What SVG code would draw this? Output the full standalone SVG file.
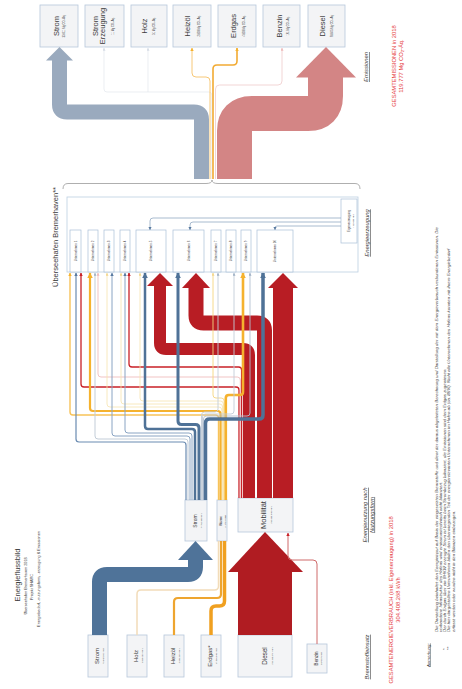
<svg xmlns="http://www.w3.org/2000/svg" width="462" height="689" viewBox="0 0 462 689">
<style>
.f{font-family:"Liberation Sans",Arial,sans-serif;fill:#3a3a3a}
.m{text-anchor:middle}
.lbl{font-style:italic;text-decoration:underline}
.red{fill:#e5383b}
.box{fill:#f3f4f6;stroke:#b6c7db;stroke-width:0.8}
.ubox{fill:#fff;stroke:#a9bfd8;stroke-width:0.7}
.ln{fill:none}
.note{font-style:italic;font-size:4.4px}
</style>
<defs>
<marker id="mBs" viewBox="0 0 10 10" refX="9" refY="5" markerWidth="3.5" markerHeight="3.5" markerUnits="userSpaceOnUse" orient="auto"><path d="M0 0L10 5L0 10z" fill="#58799f"/></marker>
<marker id="mBl" viewBox="0 0 10 10" refX="9" refY="5" markerWidth="6" markerHeight="6" markerUnits="userSpaceOnUse" orient="auto"><path d="M0 0L10 5L0 10z" fill="#4f7297"/></marker>
<marker id="mGr" viewBox="0 0 10 10" refX="9" refY="5" markerWidth="3" markerHeight="3" markerUnits="userSpaceOnUse" orient="auto"><path d="M0 0L10 5L0 10z" fill="#9fb0c4"/></marker>
<marker id="mOs" viewBox="0 0 10 10" refX="9" refY="5" markerWidth="3.5" markerHeight="3.5" markerUnits="userSpaceOnUse" orient="auto"><path d="M0 0L10 5L0 10z" fill="#f5b22e"/></marker>
<marker id="mOl" viewBox="0 0 10 10" refX="9" refY="5" markerWidth="5.5" markerHeight="5.5" markerUnits="userSpaceOnUse" orient="auto"><path d="M0 0L10 5L0 10z" fill="#f5b22e"/></marker>
<marker id="mYs" viewBox="0 0 10 10" refX="9" refY="5" markerWidth="3" markerHeight="3" markerUnits="userSpaceOnUse" orient="auto"><path d="M0 0L10 5L0 10z" fill="#f3d68a"/></marker>
<marker id="mRs" viewBox="0 0 10 10" refX="9" refY="5" markerWidth="3.5" markerHeight="3.5" markerUnits="userSpaceOnUse" orient="auto"><path d="M0 0L10 5L0 10z" fill="#c92027"/></marker>
<marker id="mPs" viewBox="0 0 10 10" refX="9" refY="5" markerWidth="3" markerHeight="3" markerUnits="userSpaceOnUse" orient="auto"><path d="M0 0L10 5L0 10z" fill="#eeb8b8"/></marker>
<marker id="mLg" viewBox="0 0 10 10" refX="9" refY="5" markerWidth="3" markerHeight="3" markerUnits="userSpaceOnUse" orient="auto"><path d="M0 0L10 5L0 10z" fill="#d6dde6"/></marker>
</defs>

<rect width="462" height="689" fill="#fff"/>

<!-- title block -->
<g id="title" class="f">
<text class="m" font-size="7.5" transform="translate(20 575) rotate(-90)">Energieflussbild</text>
<text class="m" font-size="3.8" transform="translate(27 586) rotate(-90)">Überseehafen Bremerhaven 2018</text>
<text class="m" font-size="3.8" transform="translate(33 587) rotate(-90)">Projekt SHARC</text>
<text class="m" font-size="3.8" transform="translate(40 579) rotate(-90)">Energiebedarf, -nutzungsform, -erzeugung &amp; Emissionen</text>
</g>

<!-- harbour container with companies -->
<g id="hafen">
<rect x="67" y="197" width="291" height="75" fill="#fff" stroke="#bccfe2" stroke-width="0.8"/>
<text class="f m" font-size="7.5" transform="translate(58 237) rotate(-90)">Überseehafen Bremerhaven**</text>
<path class="ln" d="M63 189Q63 183.5 68 183.5H206Q212 183.5 212 180Q212 183.5 218 183.5H355Q360 183.5 360 189" stroke="#9a9a9a" stroke-width="0.8"/>
</g>
<g id="u1"><rect class="ubox" x="70" y="230" width="11" height="42"/><text class="f m" font-size="3" transform="translate(76.6 251) rotate(-90)">Unternehmen 1</text></g>
<g id="u2"><rect class="ubox" x="88" y="230" width="10" height="42"/><text class="f m" font-size="3" transform="translate(94.1 251) rotate(-90)">Unternehmen 2</text></g>
<g id="u3"><rect class="ubox" x="104" y="230" width="10" height="42"/><text class="f m" font-size="3" transform="translate(110.1 251) rotate(-90)">Unternehmen 3</text></g>
<g id="u4"><rect class="ubox" x="120" y="230" width="10" height="42"/><text class="f m" font-size="3" transform="translate(126.1 251) rotate(-90)">Unternehmen 4</text></g>
<g id="u5"><rect class="ubox" x="136" y="230" width="30" height="42"/><text class="f m" font-size="3" transform="translate(152.1 251) rotate(-90)">Unternehmen 5</text></g>
<g id="u6"><rect class="ubox" x="173" y="230" width="31" height="42"/><text class="f m" font-size="3" transform="translate(189.6 251) rotate(-90)">Unternehmen 6</text></g>
<g id="u7"><rect class="ubox" x="211" y="230" width="10" height="42"/><text class="f m" font-size="3" transform="translate(217.1 251) rotate(-90)">Unternehmen 7</text></g>
<g id="u8"><rect class="ubox" x="226" y="230" width="10" height="42"/><text class="f m" font-size="3" transform="translate(232.1 251) rotate(-90)">Unternehmen 8</text></g>
<g id="u9"><rect class="ubox" x="241" y="230" width="10" height="42"/><text class="f m" font-size="3" transform="translate(247.1 251) rotate(-90)">Unternehmen 9</text></g>
<g id="u10"><rect class="ubox" x="257" y="230" width="36" height="42"/><text class="f m" font-size="3" transform="translate(276.1 251) rotate(-90)">Unternehmen 10</text></g>
<g id="eigen"><rect class="ubox" x="341" y="199" width="16" height="44"/><text class="f m" font-size="3" transform="translate(349.5 221) rotate(-90)">Eigenerzeugung</text><text class="f m" font-size="2" transform="translate(353.5 221) rotate(-90)">4.120.000 kWh</text></g>

<!-- emission nodes -->
<g id="em-strom"><rect class="box" x="40" y="5" width="38" height="42"/><text class="f m" font-size="7.5" transform="translate(58.5 26) rotate(-90)">Strom</text><text class="f m" font-size="2.6" transform="translate(65 26) rotate(-90)">33.011 Mg CO₂-Äq.</text></g>
<g id="em-stromerz"><rect class="box" x="85" y="5" width="39" height="42"/><text class="f m" font-size="7.5" transform="translate(97.5 26) rotate(-90)">Strom</text><text class="f m" font-size="7.5" transform="translate(105 26) rotate(-90)">Erzeugung</text><text class="f m" font-size="2.6" transform="translate(113.5 26) rotate(-90)">11 Mg CO₂-Äq.</text></g>
<g id="em-holz"><rect class="box" x="131" y="5" width="36" height="42"/><text class="f m" font-size="7.5" transform="translate(147 26) rotate(-90)">Holz</text><text class="f m" font-size="2.6" transform="translate(154.5 26) rotate(-90)">31 Mg CO₂-Äq.</text></g>
<g id="em-heizoel"><rect class="box" x="173" y="5" width="38" height="42"/><text class="f m" font-size="7.5" transform="translate(190 26) rotate(-90)">Heizöl</text><text class="f m" font-size="2.6" transform="translate(199.5 26) rotate(-90)">2.859 Mg CO₂-Äq.</text></g>
<g id="em-erdgas"><rect class="box" x="218" y="5" width="38" height="42"/><text class="f m" font-size="7.5" transform="translate(236 26) rotate(-90)">Erdgas</text><text class="f m" font-size="2.6" transform="translate(244.5 26) rotate(-90)">4.859 Mg CO₂-Äq.</text></g>
<g id="em-benzin"><rect class="box" x="263" y="5" width="37" height="42"/><text class="f m" font-size="7.5" transform="translate(282 26) rotate(-90)">Benzin</text><text class="f m" font-size="2.6" transform="translate(288.5 26) rotate(-90)">161 Mg CO₂-Äq.</text></g>
<g id="em-diesel"><rect class="box" x="308" y="5" width="37" height="42"/><text class="f m" font-size="7.5" transform="translate(325 26) rotate(-90)">Diesel</text><text class="f m" font-size="2.6" transform="translate(332.5 26) rotate(-90)">78.845 Mg CO₂-Äq.</text></g>

<!-- fuel input nodes -->
<g id="in-strom"><rect class="box" x="88" y="635" width="20" height="42"/><text class="f m" font-size="6" transform="translate(98.5 656) rotate(-90)">Strom</text><text class="f m" font-size="2.2" transform="translate(104 656) rotate(-90)">70.642.390 kWh</text></g>
<g id="in-holz"><rect class="box" x="127" y="635" width="20" height="42"/><text class="f m" font-size="6" transform="translate(137.5 656) rotate(-90)">Holz</text><text class="f m" font-size="2.2" transform="translate(143 656) rotate(-90)">1.369.080 kWh</text></g>
<g id="in-heizoel"><rect class="box" x="164" y="635" width="20" height="42"/><text class="f m" font-size="6" transform="translate(174.5 656) rotate(-90)">Heizöl</text><text class="f m" font-size="2.2" transform="translate(180 656) rotate(-90)">2.341.209 kWh</text></g>
<g id="in-erdgas"><rect class="box" x="201" y="635" width="20" height="42"/><text class="f m" font-size="6" transform="translate(211.5 656) rotate(-90)">Erdgas*</text><text class="f m" font-size="2.2" transform="translate(217 656) rotate(-90)">17.366.645 kWh</text></g>
<g id="in-diesel"><rect class="box" x="238" y="635" width="54" height="42"/><text class="f m" font-size="6.3" transform="translate(267 656) rotate(-90)">Diesel</text><text class="f m" font-size="2.2" transform="translate(272.5 656) rotate(-90)">211.118.271 kWh</text></g>
<g id="in-benzin"><rect class="box" x="307" y="644" width="20" height="29"/><text class="f m" font-size="4.5" transform="translate(318 658.5) rotate(-90)">Benzin</text><text class="f m" font-size="2" transform="translate(322 658.5) rotate(-90)">1.570.673 kWh</text></g>

<!-- usage nodes -->
<g id="use-strom"><rect class="box" x="185" y="500" width="22" height="41"/><text class="f m" font-size="5" transform="translate(196.5 521) rotate(-90)">Strom</text><text class="f m" font-size="2" transform="translate(202 521) rotate(-90)">74.762.390 kWh</text></g>
<g id="use-waerme"><rect class="box" x="217" y="500" width="10" height="41"/><text class="f m" font-size="3" transform="translate(222.3 521) rotate(-90)">Wärme</text><text class="f m" font-size="1.8" transform="translate(225.5 521) rotate(-90)">21.076.934 kWh</text></g>
<g id="use-mobil"><rect class="box" x="238" y="498" width="55" height="34"/><text class="f m" font-size="7.5" transform="translate(266 515) rotate(-90)">Mobilität</text><text class="f m" font-size="2.2" transform="translate(272 515) rotate(-90)">212.688.944 kWh</text></g>

<!-- flows -->
<g id="connectors">
<!-- emissions -->
<path class="ln" d="M201.5 179V119.5Q201.5 112 194 112H67Q59.5 112 59.5 104.5V60" stroke="#9aaabe" stroke-width="15"/>
<polygon points="46,60.5 73,60.5 59.5,47" fill="#9aaabe"/>
<path class="ln" d="M234.5 179V131Q234.5 113.5 252 113.5H308Q325.5 113.5 325.5 96V77" stroke="#d38585" stroke-width="35"/>
<polygon points="296,77.5 356,77.5 326,47" fill="#d38585"/>
<path class="ln" d="M211.8 179V95Q211.8 92 208.8 92H107Q104 92 104 89V48" stroke="#e2e7ed" stroke-width="0.7" marker-end="url(#mLg)"/>
<path class="ln" d="M148 92V48" stroke="#e2e7ed" stroke-width="0.7" marker-end="url(#mLg)"/>
<path class="ln" d="M215.5 179V89Q215.5 85 219.5 85H278Q282 85 282 81V48" stroke="#efcaca" stroke-width="0.8" marker-end="url(#mPs)"/>
<path class="ln" d="M210 179V81Q210 77 206 77H196Q192 77 192 73V48" stroke="#f7c878" stroke-width="1" marker-end="url(#mOs)"/>
<path class="ln" d="M213 179V69Q213 65 217 65H233Q237 65 237 61V48" stroke="#f2ab33" stroke-width="1.6" marker-end="url(#mOs)"/>

<!-- own generation -->
<path class="ln" d="M341 218H153Q150 218 150 221V229.8" stroke="#93a9c3" stroke-width="0.8" marker-end="url(#mBs)"/>
<path class="ln" d="M341 222H193Q190 222 190 225V229.8" stroke="#93a9c3" stroke-width="0.8" marker-end="url(#mBs)"/>
<path class="ln" d="M341 226H277Q275 226 275 228V229.8" stroke="#93a9c3" stroke-width="0.8" marker-end="url(#mBs)"/>

<!-- fuel inputs -->
<path class="ln" d="M99.5 635V582Q99.5 574.5 107 574.5H188Q195.5 574.5 195.5 567V559.5" stroke="#4f7399" stroke-width="15"/>
<polygon points="178,560 213,560 195.5,541" fill="#4f7399"/>
<path class="ln" d="M137 635V594Q137 590 141 590H214.5Q218.5 590 218.5 586V541" stroke="#f2dcb9" stroke-width="1.5"/>
<path class="ln" d="M174 635V602Q174 598 178 598H217Q221 598 221 594V541" stroke="#eea52f" stroke-width="2.2"/>
<path class="ln" d="M211 635V611Q211 606 216 606H219.5Q224.5 606 224.5 601V541" stroke="#f0a020" stroke-width="3.5"/>
<rect x="238" y="571.5" width="54" height="63.5" fill="#b01c22"/>
<polygon points="228,572 303,572 265,532" fill="#b01c22"/>
<path class="ln" d="M317 644V564Q317 560 313 560H292Q288 560 288 556V533" stroke="#cf6b6b" stroke-width="1" marker-end="url(#mRs)"/>

<!-- mobility to companies -->
<path class="ln" d="M249 498V355Q249 349 243 349H166Q160 349 160 343V285.5" stroke="#b81d24" stroke-width="12"/>
<polygon points="147,286 173,286 160,273" fill="#b81d24"/>
<path class="ln" d="M264.5 498V330.5Q264.5 323 257 323H203.5Q196 323 196 315.5V287.5" stroke="#b81d24" stroke-width="15"/>
<polygon points="182,288 210,288 196,273" fill="#b81d24"/>
<rect x="273" y="287.5" width="20" height="210.5" fill="#b81d24"/>
<polygon points="268,288 298,288 283,273" fill="#b81d24"/>
<path class="ln" d="M239 498V390Q239 387 236 387H84Q81 387 81 384V273" stroke="#c92027" stroke-width="1.3" marker-end="url(#mRs)"/>
<path class="ln" d="M240.3 498V380Q240.3 377 237.3 377H101Q98 377 98 374V273" stroke="#efbcbc" stroke-width="0.9" marker-end="url(#mPs)"/>
<path class="ln" d="M241.6 498V370Q241.6 367 238.6 367H132Q129 367 129 364V273" stroke="#c92027" stroke-width="1.3" marker-end="url(#mRs)"/>

<!-- heat to companies -->
<path class="ln" d="M221.8 500V410Q221.8 407 218.8 407H110Q107 407 107 404V273" stroke="#f6e3ad" stroke-width="0.8" marker-end="url(#mYs)"/>
<path class="ln" d="M222.6 500V407Q222.6 404 219.6 404H124Q121 404 121 401V273" stroke="#f6e3ad" stroke-width="0.8" marker-end="url(#mYs)"/>
<path class="ln" d="M223.4 500V404Q223.4 401 220.4 401H143Q140 401 140 398V273" stroke="#f6e3ad" stroke-width="0.8" marker-end="url(#mYs)"/>
<path class="ln" d="M224.2 500V401Q224.2 398 221.2 398H216Q213 398 213 395V273" stroke="#f5d67f" stroke-width="0.9" marker-end="url(#mYs)"/>
<path class="ln" d="M218.5 500V418Q218.5 415 215.5 415H73Q70 415 70 412V273" stroke="#f7c35a" stroke-width="1.4" marker-end="url(#mOs)"/>
<path class="ln" d="M220.5 500V414Q220.5 411 217.5 411H93Q90 411 90 408V273" stroke="#f5b22e" stroke-width="2.2" marker-end="url(#mOl)"/>
<path class="ln" d="M225.8 500V398Q225.8 395 228.8 395H240Q243 395 243 392V273" stroke="#f5b22e" stroke-width="2.6" marker-end="url(#mOl)"/>

<!-- electricity to companies -->
<path class="ln" d="M188 500V442Q188 439 185 439H98Q95 439 95 436V273" stroke="#c3cdd8" stroke-width="1" marker-end="url(#mGr)"/>
<path class="ln" d="M201.5 500V415Q201.5 412 204.5 412H215Q218 412 218 409V273" stroke="#c3cdd8" stroke-width="0.9" marker-end="url(#mGr)"/>
<path class="ln" d="M202.5 500V417Q202.5 414 205.5 414H231Q234 414 234 411V273" stroke="#c3cdd8" stroke-width="0.9" marker-end="url(#mGr)"/>
<path class="ln" d="M203.5 500V419Q203.5 416 206.5 416H247Q250 416 250 413V273" stroke="#b3c1d1" stroke-width="0.9" marker-end="url(#mGr)"/>
<path class="ln" d="M186 500V445Q186 442 183 442H79Q76 442 76 439V273" stroke="#6a8bb1" stroke-width="1.2" marker-end="url(#mBs)"/>
<path class="ln" d="M190 500V439Q190 436 187 436H115Q112 436 112 433V273" stroke="#8aa4c3" stroke-width="1" marker-end="url(#mBs)"/>
<path class="ln" d="M192 500V436Q192 433 189 433H128Q125 433 125 430V273" stroke="#8aa4c3" stroke-width="1" marker-end="url(#mBs)"/>
<path class="ln" d="M195 500V432Q195 429 192 429H148Q145 429 145 426V273" stroke="#4f7297" stroke-width="2.5" marker-end="url(#mBl)"/>
<path class="ln" d="M199 500V428Q199 424.5 195.5 424.5H181.5Q178 424.5 178 421V273" stroke="#4f7297" stroke-width="3" marker-end="url(#mBl)"/>
<path class="ln" d="M205.5 500V423Q205.5 419 209.5 419H259Q263 419 263 415V273" stroke="#4f7297" stroke-width="3.5" marker-end="url(#mBl)"/>
</g>

<!-- section labels -->
<g id="labels" class="f">
<text class="m lbl" font-size="5.8" transform="translate(368 67) rotate(-90)">Emissionen</text>
<text class="m lbl" font-size="5.8" transform="translate(369 233) rotate(-90)">Energieerzeugung</text>
<text class="m lbl" font-size="5.8" transform="translate(367 515) rotate(-90)">Energienutzung nach</text>
<text class="m lbl" font-size="5.8" transform="translate(373.5 515) rotate(-90)">Nutzungsform</text>
<text class="m lbl" font-size="5.8" transform="translate(369 657) rotate(-90)">Brennstoffeinsatz</text>
<text class="m red" font-size="5.8" transform="translate(396 66) rotate(-90)">GESAMTEMISSIONEN in 2018</text>
<text class="m red" font-size="5.8" transform="translate(403 66) rotate(-90)">119.777 Mg CO₂-Äq.</text>
<text class="m red" font-size="5.8" transform="translate(393 600) rotate(-90)">GESAMTENERGIEVERBRAUCH (inkl. Eigenerzeugung) in 2018</text>
<text class="m red" font-size="5.8" transform="translate(400 600) rotate(-90)">304.408.268 kWh</text>
</g>

<!-- remarks -->
<g id="notes" class="f">
<text font-size="4.4" class="lbl" transform="translate(429.5 667) rotate(-90)">Anmerkung:</text>
<text font-size="4.4" transform="translate(446 650) rotate(-90)">*</text>
<text font-size="4.4" transform="translate(450.3 650) rotate(-90)">**</text>
<text class="note" transform="translate(437.5 632) rotate(-90)">Die Darstellung beinhaltet den Energieinput auf Basis der eingesetzten Brennstoffe und dient der daraus abgeleiteten Berechnung und Darstellung der mit dem Energieverbrauch verbundenen Emissionen. Die</text>
<text class="note" transform="translate(441.8 632) rotate(-90)">vorhandene Infrastruktur des Hafens wird emissionstechnisch nicht bilanziert.</text>
<text class="note" transform="translate(446 632) rotate(-90)">Der durch Erdgas über ein BHKW erzeugte Strom ist bereits beim Strombezug bilanziert, die Emissionen sind dem Erdgas zugewiesen.</text>
<text class="note" transform="translate(450.3 632) rotate(-90)">Die hier dargestellten Unternehmen bilden den überwiegenden Teil der energierelevanten Unternehmen im Hafen ab (ca. 85%). Nicht alle Unternehmen des Hafens konnten mit ihrem Energiebedarf</text>
<text class="note" transform="translate(454.6 632) rotate(-90)">erfasst werden oder wurden nicht in den Bilanzen einbezogen.</text>
</g>
</svg>
